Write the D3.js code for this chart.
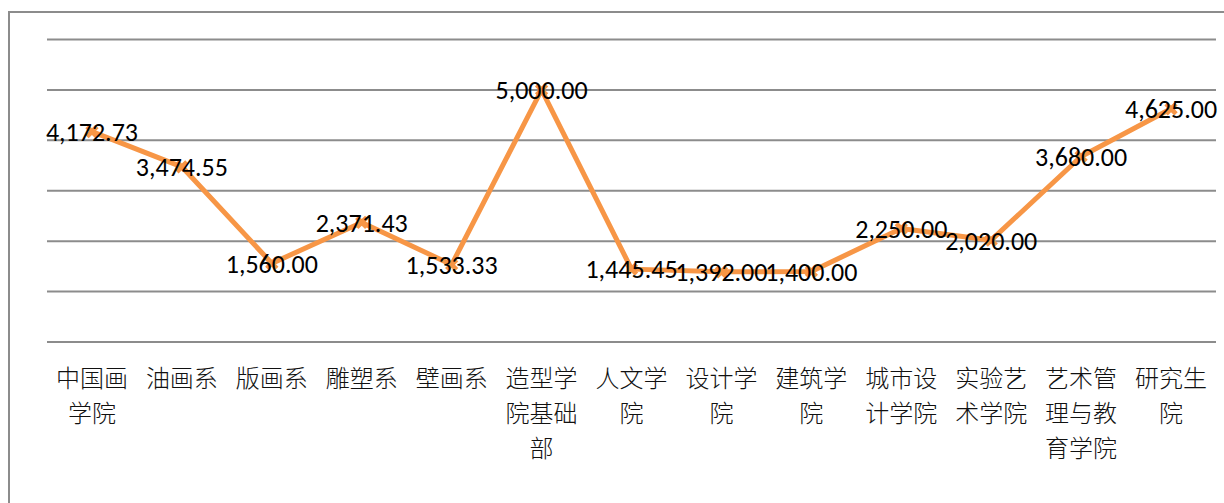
<!DOCTYPE html>
<html>
<head>
<meta charset="utf-8">
<script src="https://cdn.jsdelivr.net/npm/d3@7"></script>
<style>
  html, body { margin: 0; padding: 0; background: #fff; }
  svg { display: block; }
</style>
</head>
<body>
<div id="chart"></div>
<script>
var categories = ["中国画学院", "油画系", "版画系", "雕塑系", "壁画系", "造型学院基础部", "人文学院",
    "设计学院", "建筑学院", "城市设计学院", "实验艺术学院", "艺术管理与教育学院", "研究生院"];
var values = [4172.73, 3474.55, 1560.00, 2371.43, 1533.33, 5000.00, 1445.45,
    1392.00, 1400.00, 2250.00, 2020.00, 3680.00, 4625.00];
var yTicks = [0, 1000, 2000, 3000, 4000, 5000, 6000];

var width = 1224, height = 503;
var plot = { left: 47, right: 1216, top: 39.5, bottom: 342 };

var svg = d3.select('#chart').append('svg')
    .attr('width', width)
    .attr('height', height);

// outer frame
svg.append('rect')
    .attr('x', 9).attr('y', 12)
    .attr('width', 1240).attr('height', 520)
    .attr('fill', 'none')
    .attr('stroke', '#8c8c8c')
    .attr('stroke-width', 2);

var x = d3.scaleBand().domain(categories).range([plot.left, plot.right]);
var y = d3.scaleLinear().domain([0, 6000]).range([plot.bottom, plot.top]);

svg.append('g').selectAll('line')
    .data(yTicks)
    .enter()
    .append('line')
    .attr('x1', plot.left).attr('x2', plot.right)
    .attr('y1', function (d) { return y(d); })
    .attr('y2', function (d) { return y(d); })
    .attr('stroke', '#8c8c8c')
    .attr('stroke-width', 2);

var cx = function (d, i) { return x(categories[i]) + x.bandwidth() / 2; };

var line = d3.line()
    .x(cx)
    .y(function (d) { return y(d); });

svg.append('path')
    .datum(values)
    .attr('d', line)
    .attr('fill', 'none')
    .attr('stroke', '#f79646')
    .attr('stroke-width', 5)
    .attr('stroke-linejoin', 'round');

// x markers
svg.append('g').selectAll('path')
    .data(values)
    .enter()
    .append('path')
    .attr('d', d3.symbol().type(d3.symbolCross).size(110))
    .attr('transform', function (d, i) { return 'translate(' + cx(d, i) + ',' + y(d) + ') rotate(45)'; })
    .attr('fill', '#f79646');

var fmt = d3.format(',.2f');

svg.append('g').selectAll('text')
    .data(values)
    .enter()
    .append('text')
    .attr('x', cx)
    .attr('y', function (d) { return y(d); })
    .attr('dy', '0.36em')
    .attr('text-anchor', 'middle')
    .attr('font-family', 'Carlito, Calibri, Lato, sans-serif')
    .attr('font-size', 26)
    .attr('fill', '#000')
    .text(fmt);

// category labels, wrapped at 3 chars
var labels = svg.append('g').selectAll('text')
    .data(categories)
    .enter()
    .append('text')
    .attr('text-anchor', 'middle')
    .attr('font-family', '"Noto Sans CJK SC", sans-serif')
    .attr('font-size', 24)
    .attr('font-weight', 300)
    .attr('fill', '#111');

labels.each(function (d) {
    var t = d3.select(this);
    var cxp = x(d) + x.bandwidth() / 2;
    for (var k = 0; k * 3 < d.length; k++) {
        t.append('tspan')
            .attr('x', cxp)
            .attr('y', 387 + k * 35)
            .text(d.slice(k * 3, k * 3 + 3));
    }
});
</script>
</body>
</html>
